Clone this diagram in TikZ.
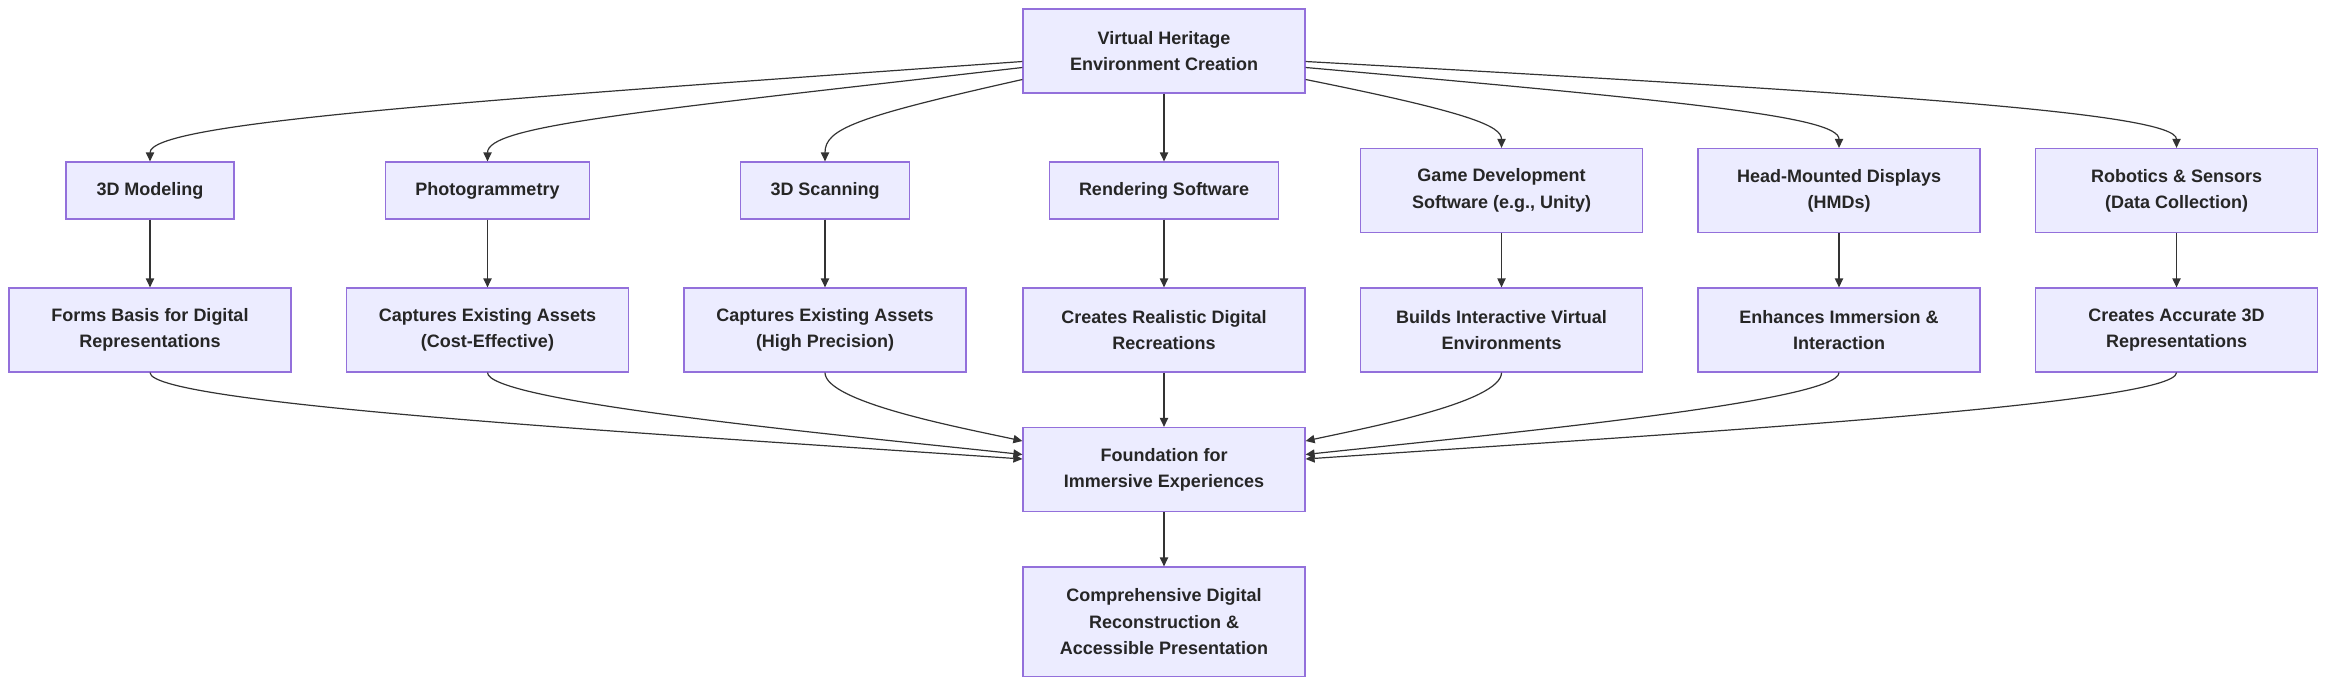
\documentclass[tikz,border=0pt]{standalone}
\usepackage{fontspec}
\setmainfont{Liberation Sans}
\usetikzlibrary{arrows.meta}
\definecolor{nfill}{HTML}{ECECFF}
\definecolor{nline}{HTML}{9370DB}
\definecolor{eline}{HTML}{333333}
\begin{document}
\begin{tikzpicture}[x=1pt,y=-1pt,
  box/.style={draw=nline,fill=nfill,line width=0.8pt,align=center,inner sep=0pt,
    font=\fontsize{12}{17.5}\selectfont\bfseries,text=black!85},
  e/.style={draw=eline,line width=0.8pt,-{Triangle[length=6pt,width=5.5pt]}}]
\useasboundingbox (0,0) rectangle (1568,464);
\node[box,minimum width=188pt,minimum height=56pt] (top) at (776,34) {Virtual Heritage\\Environment Creation};
\node[box,minimum width=112pt,minimum height=38pt] (a1) at (100,127) {3D Modeling};
\node[box,minimum width=136pt,minimum height=38pt] (a2) at (325,127) {Photogrammetry};
\node[box,minimum width=113pt,minimum height=38pt] (a3) at (550,127) {3D Scanning};
\node[box,minimum width=153pt,minimum height=38pt] (a4) at (776,127) {Rendering Software};
\node[box,minimum width=188pt,minimum height=56pt] (a5) at (1001,127) {Game Development\\Software (e.g., Unity)};
\node[box,minimum width=188pt,minimum height=56pt] (a6) at (1226,127) {Head-Mounted Displays\\(HMDs)};
\node[box,minimum width=188pt,minimum height=56pt] (a7) at (1451,127) {Robotics \& Sensors\\(Data Collection)};
\node[box,minimum width=188pt,minimum height=56pt] (b1) at (100,220) {Forms Basis for Digital\\Representations};
\node[box,minimum width=188pt,minimum height=56pt] (b2) at (325,220) {Captures Existing Assets\\(Cost-Effective)};
\node[box,minimum width=188pt,minimum height=56pt] (b3) at (550,220) {Captures Existing Assets\\(High Precision)};
\node[box,minimum width=188pt,minimum height=56pt] (b4) at (776,220) {Creates Realistic Digital\\Recreations};
\node[box,minimum width=188pt,minimum height=56pt] (b5) at (1001,220) {Builds Interactive Virtual\\Environments};
\node[box,minimum width=188pt,minimum height=56pt] (b6) at (1226,220) {Enhances Immersion \&\\Interaction};
\node[box,minimum width=188pt,minimum height=56pt] (b7) at (1451,220) {Creates Accurate 3D\\Representations};
\node[box,minimum width=188pt,minimum height=56pt] (f) at (776,313) {Foundation for\\Immersive Experiences};
\node[box,minimum width=188pt,minimum height=73pt] (c) at (776,414.5) {Comprehensive Digital\\Reconstruction \&\\Accessible Presentation};
% top to row 1
\draw[e] ([yshift=-7pt]top.west) .. controls (300,68) and (100,82) .. (a1.north);
\draw[e] ([yshift=-11pt]top.west) .. controls (420,75) and (325,84) .. (a2.north);
\draw[e] ([yshift=-19pt]top.west) .. controls (570,78) and (550,86) .. (a3.north);
\draw[e] (top) -- (a4);
\draw[e] ([yshift=-19pt]top.east) .. controls (980,75) and (1001,84) .. (a5.north);
\draw[e] ([yshift=-11pt]top.east) .. controls (1130,68) and (1226,78) .. (a6.north);
\draw[e] ([yshift=-7pt]top.east) .. controls (1250,62) and (1451,75) .. (a7.north);
\foreach \i in {1,...,7}{\draw[e] (a\i) -- (b\i);}
% row 2 to foundation
\draw[e] (b1.south) .. controls (100,270) and (450,290) .. ([yshift=7pt]f.west);
\draw[e] (b2.south) .. controls (325,268) and (560,290) .. ([yshift=10pt]f.west);
\draw[e] (b3.south) .. controls (550,268) and (640,285) .. ([yshift=19pt]f.west);
\draw[e] (b4) -- (f);
\draw[e] (b5.south) .. controls (1001,268) and (912,285) .. ([yshift=19pt]f.east);
\draw[e] (b6.south) .. controls (1226,268) and (992,290) .. ([yshift=10pt]f.east);
\draw[e] (b7.south) .. controls (1451,270) and (1102,290) .. ([yshift=7pt]f.east);
\draw[e] (f) -- (c);
\end{tikzpicture}
\end{document}
